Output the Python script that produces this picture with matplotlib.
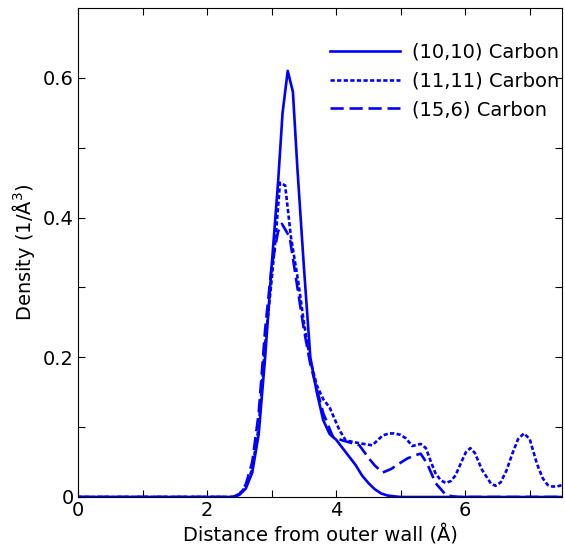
import numpy as np
import matplotlib
matplotlib.use("Agg")
import matplotlib.pyplot as plt

# (10,10) carbon density profile
x_1010 = [0, 2.4, 2.5, 2.6, 2.7, 2.8, 2.9, 3.0, 3.1, 3.17, 3.25, 3.33, 3.4, 3.5,
          3.6, 3.7, 3.8, 3.9, 4.0, 4.1, 4.2, 4.3, 4.4, 4.5, 4.6, 4.7, 4.8, 5.0, 7.5]
y_1010 = [0, 0, 0.003, 0.012, 0.035, 0.09, 0.2, 0.33, 0.45, 0.55, 0.61, 0.58, 0.47, 0.33,
          0.2, 0.15, 0.11, 0.09, 0.082, 0.07, 0.058, 0.046, 0.031, 0.02, 0.011, 0.005, 0.002, 0, 0]

# (11,11) carbon density profile
x_1111 = [0, 2.4, 2.5, 2.6, 2.7, 2.8, 2.9, 3.0, 3.07, 3.13, 3.21, 3.3, 3.41, 3.5,
          3.6, 3.7, 3.8, 3.9, 4.05, 4.15, 4.36, 4.56, 4.72, 4.82, 4.9, 5.0, 5.08, 5.18, 5.31, 5.39,
          5.47, 5.54, 5.62, 5.7, 5.78, 5.85, 5.95, 6.01, 6.08, 6.15, 6.26, 6.4, 6.47, 6.55,
          6.64, 6.73, 6.82, 6.91, 7.0, 7.11, 7.2, 7.28, 7.35, 7.42, 7.5]
y_1111 = [0, 0, 0.004, 0.015, 0.04, 0.1, 0.22, 0.31, 0.38, 0.45, 0.446, 0.372, 0.31, 0.25,
          0.195, 0.16, 0.14, 0.128, 0.096, 0.081, 0.077, 0.074, 0.088, 0.091, 0.091, 0.089, 0.084, 0.073, 0.076, 0.07,
          0.05, 0.034, 0.024, 0.02, 0.023, 0.031, 0.052, 0.064, 0.07, 0.063, 0.039, 0.019, 0.016, 0.021,
          0.038, 0.062, 0.083, 0.091, 0.083, 0.048, 0.027, 0.017, 0.015, 0.015, 0.017]

# (15,6) carbon density profile
x_156 = [0, 2.4, 2.5, 2.6, 2.7, 2.8, 2.9, 3.0, 3.1, 3.16, 3.28, 3.4, 3.5, 3.6, 3.7,
         3.8, 3.95, 4.1, 4.25, 4.36, 4.51, 4.6, 4.72, 4.85, 4.98, 5.1, 5.23, 5.31, 5.41,
         5.54, 5.7, 5.8, 5.9, 7.5]
y_156 = [0, 0, 0.004, 0.018, 0.05, 0.12, 0.24, 0.33, 0.38, 0.391, 0.372, 0.3, 0.24, 0.19, 0.155,
         0.12, 0.086, 0.081, 0.077, 0.074, 0.055, 0.045, 0.035, 0.04, 0.048, 0.055, 0.06, 0.062, 0.048,
         0.02, 0.003, 0.001, 0, 0]

labels = ["(10,10) Carbon", "(11,11) Carbon", "(15,6) Carbon"]

plt.rcParams['font.family'] = ['DejaVu Sans']
fig = plt.figure(figsize=(5.65, 5.53), dpi=100)
ax = fig.add_axes([78 / 565, 56 / 553, 484 / 565, 489 / 553])

ax.plot(x_1010, y_1010, color='#0000ff', lw=1.9, label=labels[0])
ax.plot(x_1111, y_1111, color='#0000ff', lw=1.9, ls=(0, (1.6, 0.9)), label=labels[1])
ax.plot(x_156, y_156, color='#0000ff', lw=1.9, ls=(0, (5, 2.2)), label=labels[2])

ax.set_xlim(0, 7.5)
ax.set_ylim(0, 0.7)
ax.set_xticks([0, 2, 4, 6])
ax.set_xticks(np.arange(0, 7.5, 1), minor=True)
ax.set_yticks([0, 0.2, 0.4, 0.6])
ax.set_yticklabels(['0', '0.2', '0.4', '0.6'])
ax.set_yticks(np.arange(0, 0.7, 0.1), minor=True)
ax.tick_params(which='both', direction='in', top=True, right=True, length=5,
               width=0.8, labelsize=14, pad=3)

ax.set_xlabel('Distance from outer wall (Å)', fontsize=14, labelpad=3)
ax.set_ylabel('Density (1/Å$^3$)', fontsize=14, labelpad=4)

ax.legend(loc='upper right', bbox_to_anchor=(1.03, 0.965), frameon=False, fontsize=14,
          handlelength=3.6, handletextpad=0.6, labelspacing=0.5)

fig.savefig('out.png', dpi=100)
